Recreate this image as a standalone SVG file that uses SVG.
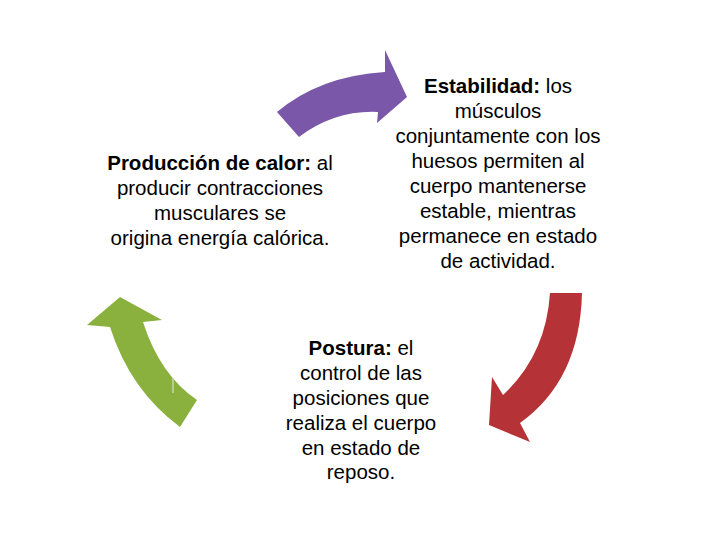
<svg xmlns="http://www.w3.org/2000/svg" width="720" height="540" viewBox="0 0 720 540">
<style>
.t{font-family:"Liberation Sans",Arial,sans-serif;font-size:20.5px;fill:#000;text-anchor:middle}
.b{font-weight:bold}
</style>
<rect width="720" height="540" fill="#fff"/>
<g id="connectors">
<path id="arrow-purple" d="M277,112 Q320,76 385,72 L385,50 L407,97 L377,123 L378,112 Q335,110 299,137 Z" fill="#7A57A8"/>
<path id="arrow-red" d="M550,293 L582,293 Q580,380 520,423 L530,442 L489,425 L492,377 L503,395 Q546,355 550,293 Z" fill="#B53236"/>
<path id="arrow-green" d="M197,400 Q160,375 143,322 L162,320 L120,297 L87,325 L110,327 Q130,390 180,427 Z" fill="#8AB03E"/>
<line x1="173" y1="378" x2="173" y2="393" stroke="#e8e8e8" stroke-width="1"/>
</g>
<g id="node-calor">
<text class="t" x="220" y="170"><tspan class="b">Producción de calor:</tspan> al</text>
<text class="t" x="220" y="195">producir contracciones</text>
<text class="t" x="220" y="220">musculares se</text>
<text class="t" x="220" y="245">origina energía calórica.</text>
</g>
<g id="node-estabilidad">
<text class="t" x="498" y="93"><tspan class="b">Estabilidad:</tspan> los</text>
<text class="t" x="498" y="118">músculos</text>
<text class="t" x="498" y="143">conjuntamente con los</text>
<text class="t" x="498" y="168">huesos permiten al</text>
<text class="t" x="498" y="193">cuerpo mantenerse</text>
<text class="t" x="498" y="218">estable, mientras</text>
<text class="t" x="498" y="243">permanece en estado</text>
<text class="t" x="498" y="268">de actividad.</text>
</g>
<g id="node-postura">
<text class="t" x="361" y="355"><tspan class="b">Postura:</tspan> el</text>
<text class="t" x="361" y="380">control de las</text>
<text class="t" x="361" y="405">posiciones que</text>
<text class="t" x="361" y="430">realiza el cuerpo</text>
<text class="t" x="361" y="455">en estado de</text>
<text class="t" x="361" y="479">reposo.</text>
</g>
</svg>
